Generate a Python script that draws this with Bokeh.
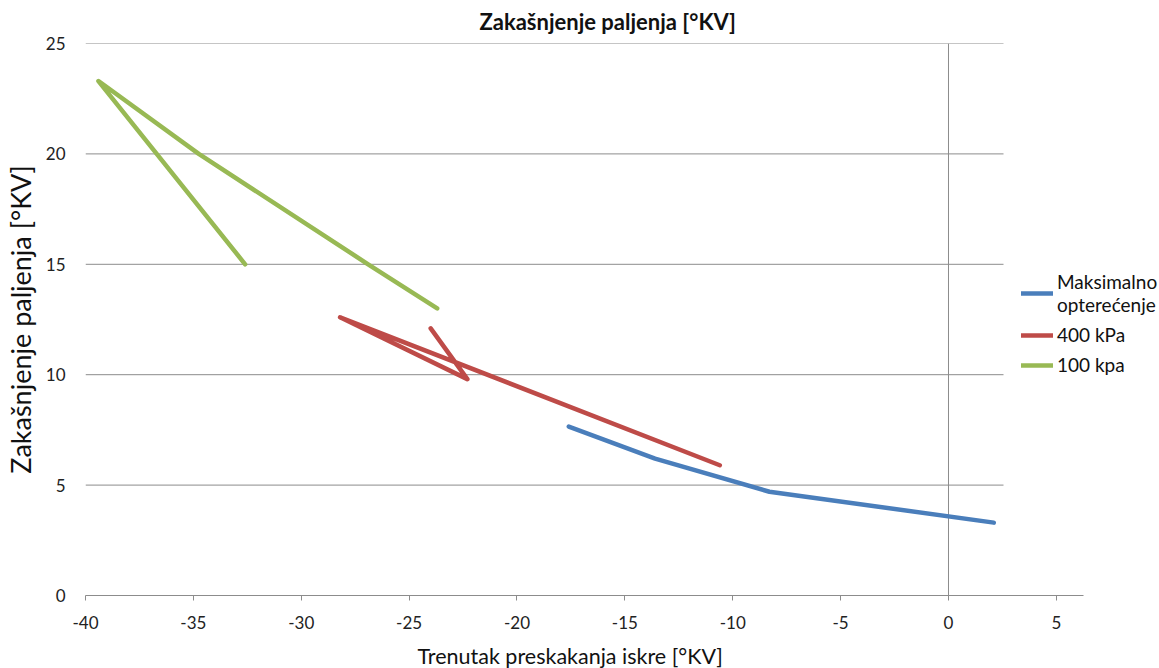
from bokeh.plotting import figure
from bokeh.models import Range1d, FixedTicker, Legend, LegendItem, Title
from bokeh.embed import file_html
from bokeh.resources import INLINE

# ---- data ----
blue_x = [-17.6, -13.6, -8.3, 2.1]
blue_y = [7.65, 6.2, 4.7, 3.3]

red_x = [-24.0, -22.3, -28.2, -10.6]
red_y = [12.1, 9.8, 12.6, 5.9]

green_x = [-32.6, -39.4, -34.75, -26.9, -23.7]
green_y = [15.0, 23.3, 20.0, 15.0, 13.0]

series_names = ["Maksimalno\nopterećenje", "400 kPa", "100 kpa"]
x_ticks = [-40, -35, -30, -25, -20, -15, -10, -5, 0, 5]
y_ticks = [0, 5, 10, 15, 20, 25]

FONT = "Lato"
GRID = "#8c8c8c"

p = figure(width=1159, height=668,
           x_range=Range1d(-40, 9.78), y_range=Range1d(0, 25),
           output_backend="svg", toolbar_location=None,
           min_border_left=85, min_border_right=0,
           min_border_top=43, min_border_bottom=73)
p.outline_line_color = None
p.xgrid.visible = False
p.ygrid.visible = False

# horizontal gridlines (limited extent as in reference)
gy = [t for t in y_ticks if t > 0]
p.segment(x0=[-40] * len(gy), y0=gy, x1=[2.55] * len(gy), y1=gy,
          line_color=GRID, line_width=1)
# vertical axis line crossing at x = 0
p.segment(x0=[0], y0=[0], x1=[0], y1=[25], line_color=GRID, line_width=1)

lw = 4.5
rb = p.line(blue_x, blue_y, line_color="#4a7ebb", line_width=lw,
            line_cap="round", line_join="round")
rr = p.line(red_x, red_y, line_color="#be4b48", line_width=lw,
            line_cap="round", line_join="round")
rg = p.line(green_x, green_y, line_color="#98b954", line_width=lw,
            line_cap="round", line_join="round")

# x axis
xa = p.xaxis[0]
xa.ticker = FixedTicker(ticks=x_ticks)
xa.major_label_overrides = {t: str(t) for t in x_ticks}
xa.bounds = (-40, 6.26)
xa.axis_line_color = GRID
xa.major_tick_line_color = GRID
xa.major_tick_in = 0
xa.major_tick_out = 5
xa.minor_tick_line_color = None
xa.major_label_text_font = FONT
xa.major_label_text_font_size = "17px"
xa.major_label_text_color = "#222222"
xa.major_label_standoff = 15
# small blank spacer label to push the axis title down a little
xa.axis_label = " "
xa.axis_label_text_font_size = "5px"
xa.axis_label_standoff = 0

# x axis title (placed as a below-panel title so it can sit off-centre)
xtitle = Title(text="Trenutak preskakanja iskre [°KV]", align="left",
               offset=332, standoff=0, text_font=FONT,
               text_font_size="21.5px", text_font_style="normal",
               text_color="#111111")
p.add_layout(xtitle, "below")

# y axis
ya = p.yaxis[0]
ya.ticker = FixedTicker(ticks=y_ticks)
ya.axis_line_color = None
ya.major_tick_line_color = None
ya.major_tick_in = 0
ya.major_tick_out = 0
ya.minor_tick_line_color = None
ya.major_label_text_font = FONT
ya.major_label_text_font_size = "17px"
ya.major_label_text_color = "#222222"
ya.major_label_standoff = 20
ya.axis_label = "Zakašnjenje paljenja [°KV]"
ya.axis_label_text_font = FONT
ya.axis_label_text_font_size = "27px"
ya.axis_label_text_font_style = "normal"
ya.axis_label_text_color = "#111111"
ya.axis_label_standoff = 6

# title
p.title.text = "Zakašnjenje paljenja [°KV]"
p.title.align = "left"
p.title.offset = 394
p.title.standoff = 13
p.title.vertical_align = "top"
p.title.text_font = FONT
p.title.text_font_size = "22px"
p.title.text_font_style = "bold"
p.title.text_color = "#111111"

legend = Legend(items=[LegendItem(label=series_names[0], renderers=[rb]),
                       LegendItem(label=series_names[1], renderers=[rr]),
                       LegendItem(label=series_names[2], renderers=[rg])],
                location=(936, 219), orientation="vertical",
                glyph_width=32, glyph_height=20, label_standoff=4,
                spacing=7, padding=0, margin=0,
                label_text_font=FONT, label_text_font_size="19px",
                label_text_color="#111111", label_text_line_height=0.8,
                background_fill_alpha=0, border_line_color=None)
p.add_layout(legend)

open("out.html", "w").write(file_html(p, INLINE))
